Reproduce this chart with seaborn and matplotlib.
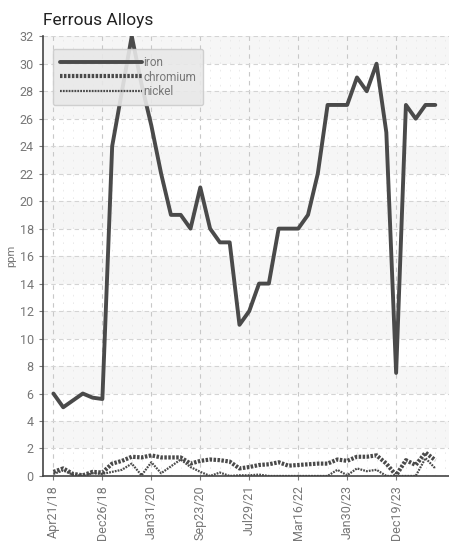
import numpy as np
import pandas as pd
import matplotlib
matplotlib.use("Agg")
import matplotlib.pyplot as plt
import seaborn as sns

# sample index -> label every 5th sample
tick_labels = ["Apr21/18", "Dec26/18", "Jan31/20", "Sep23/20",
               "Jul29/21", "Mar16/22", "Jan30/23", "Dec19/23"]

iron = [6, 5, 5.5, 6, 5.7, 5.6, 24, 28, 32, 28.5,
        25.5, 22, 19, 19, 18, 21, 18, 17, 17, 11,
        12, 14, 14, 18, 18, 18, 19, 22, 27, 27,
        27, 29, 28, 30, 25, 7.5, 27, 26, 27, 27]
chromium = [0.3, 0.55, 0.15, 0.05, 0.3, 0.25, 0.9, 1.1, 1.4, 1.35,
            1.5, 1.35, 1.35, 1.35, 0.9, 1.1, 1.2, 1.15, 1.05, 0.55,
            0.65, 0.8, 0.85, 1.0, 0.75, 0.8, 0.85, 0.9, 0.9, 1.2,
            1.1, 1.4, 1.4, 1.5, 0.9, 0.05, 1.15, 0.8, 1.7, 1.15]
nickel = [0.15, 0.4, 0.1, 0.0, 0.2, 0.15, 0.3, 0.45, 0.9, 0.05,
          1.0, 0.2, 0.7, 1.2, 0.65, 0.3, 0.0, 0.25, 0.0, 0.05,
          0.05, 0.1, 0.0, 0.0, 0.0, 0.0, 0.0, 0.0, 0.0, 0.45,
          0.05, 0.55, 0.35, 0.45, 0.0, 0.0, 0.0, 0.0, 1.3, 0.55]

df = pd.DataFrame({"idx": np.arange(len(iron)), "iron": iron,
                   "chromium": chromium, "nickel": nickel})

sns.set_style("white")
plt.rcParams['font.family'] = ['Roboto', 'DejaVu Sans']

fig, ax = plt.subplots(figsize=(4.49, 5.49), dpi=100)
fig.subplots_adjust(left=0.095, right=1.0, top=0.934, bottom=0.133)

col = "#4a4a4a"
styles = {
    "iron": dict(lw=2.8, ls="-"),
    "chromium": dict(lw=3.0, ls=(0, (0.6, 0.35))),
    "nickel": dict(lw=1.6, ls=(0, (0.8, 0.5))),
}
for name in ["iron", "chromium", "nickel"]:
    sns.lineplot(data=df, x="idx", y=name, ax=ax, color=col, label=name,
                 linewidth=styles[name]["lw"], linestyle=styles[name]["ls"])

# alternating bands
for lo in range(2, 32, 4):
    ax.axhspan(lo, lo + 2, color="#f6f6f6", zorder=0, lw=0)

ax.set_ylim(0, 32)
ax.set_xlim(-1.1, 40.4)
ax.set_yticks(range(0, 33, 2))
ax.set_xticks(range(0, 40, 5))
ax.set_xticklabels(tick_labels, rotation=90)
ax.set_xticks(range(0, 41), minor=True)
ax.grid(True, axis="y", ls=(0, (4, 3)), color="#d4d4d4", lw=0.8)
ax.grid(True, axis="x", which="major", ls=(0, (4, 4)), color="#c8c8c8", lw=0.8)
ax.grid(True, axis="x", which="minor", ls=(0, (2, 7)), color="#e8e8e8", lw=0.6)
ax.tick_params(axis="both", colors="#777777", labelsize=9, length=3,
               direction="out", left=True, bottom=True)
ax.tick_params(axis="x", which="minor", length=0)
for s in ["top", "right"]:
    ax.spines[s].set_visible(False)
for s in ["left", "bottom"]:
    ax.spines[s].set_color("#444444")
    ax.spines[s].set_linewidth(1.2)

ax.set_xlabel("")
ax.set_ylabel("ppm", color="#777777", fontsize=8, labelpad=2)
ax.set_title("Ferrous Alloys", loc="left", fontsize=12.5, color="#222222", x=0.0, pad=8)

leg = ax.legend(loc="upper left", handlelength=7, fontsize=8.5, frameon=True,
                fancybox=True, borderpad=0.6, labelspacing=0.15, handletextpad=0.1,
                bbox_to_anchor=(0.01, 0.985))
leg.get_frame().set_facecolor("#e8e8e8")
leg.get_frame().set_edgecolor("#cccccc")
leg.get_frame().set_alpha(0.9)
for t in leg.get_texts():
    t.set_color("#777777")

plt.savefig("out.png", dpi=100)
